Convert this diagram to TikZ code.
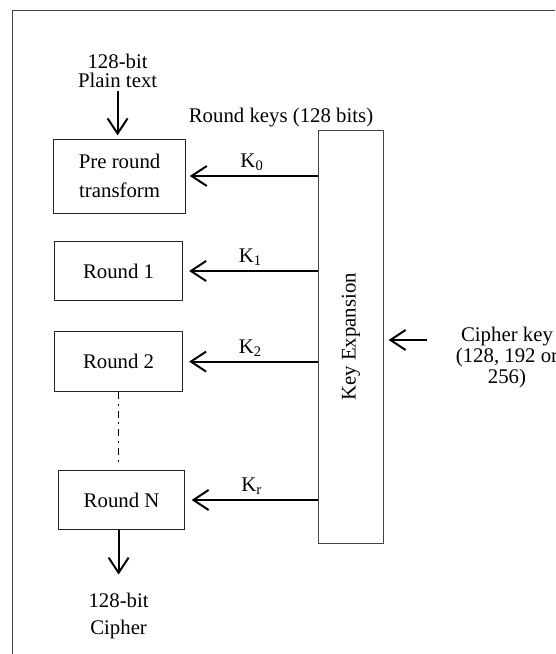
\documentclass[tikz,border=0pt]{standalone}
\usepackage{fontspec}
\setmainfont{Liberation Serif}
\usetikzlibrary{positioning,arrows.meta,calc}
\definecolor{framegray}{HTML}{444444}

\begin{document}
\begin{tikzpicture}[
    font=\fontsize{14.8}{12.4}\selectfont,
    stage/.style={draw=black!85, line width=0.6pt, align=center, inner sep=2pt},
    lbl/.style={align=center, inner sep=1pt},
    arr/.style={-{Straight Barb[length=3.8mm,width=5mm]}, line width=1.4pt},
    dashdotline/.style={line width=1pt, dash pattern=on 0.175cm off 0.12cm on 0.05cm off 0.12cm}
  ]
  \useasboundingbox (0,0) rectangle (13.875,16.35);
  \clip (0,0) rectangle (13.875,16.35);
  % Outer frame
  \draw[framegray, line width=0.7pt] (0.32,-1) rectangle (15,16.075);
  % Input and output
  \node[lbl] (plain) at (2.94,14.57) {128-bit\\[1.2pt]Plain text};
  \node[lbl] (cipher) at (2.965,0.95) {128-bit\\[6.8pt]Cipher};
  % Rounds
  \node[stage, minimum width=3.29cm, minimum height=1.85cm] (pre) at (2.99,11.95) {Pre round\\[8pt]transform};
  \node[stage, minimum width=3.185cm, minimum height=1.475cm] (r1) at (2.965,9.575) {Round 1};
  \node[stage, minimum width=3.185cm, minimum height=1.5cm] (r2) at (2.965,7.31) {Round 2};
  \node[stage, minimum width=3.16cm, minimum height=1.47cm] (rN) at (3.04,3.85) {Round N};
  % Key schedule
  \node[stage, draw=framegray, minimum width=1.62cm, minimum height=10.33cm] (keyx) at (8.775,7.93) {\rotatebox{90}{Key Expansion}};
  \node[lbl] (rkeys) at (7.025,13.4) {Round keys (128 bits)};
  \node[lbl] (ckey) at (12.675,7.42) {Cipher key\\[0.6pt](128, 192 or\\[0.6pt]256)};
  \coordinate (ckin) at (10.665,7.85);
  % Data path
  \draw[arr, shorten <=0.02cm, shorten >=0.08cm] (plain.south) -- (plain.south |- pre.north);
  \draw[dashdotline, shorten >=0.14cm] (r2.south) -- (r2.south |- rN.north);
  \draw[arr, shorten >=0.42cm] (cipher.north |- rN.south) -- (cipher.north);
  % Round keys
  \draw[arr, shorten >=0.1cm] (keyx.west |- pre) -- node[midway, above, inner sep=3pt] {K\textsubscript{0}} (pre.east);
  \draw[arr, shorten >=0.16cm] (keyx.west |- r1) -- node[midway, above, inner sep=3pt] {K\textsubscript{1}} (r1.east);
  \draw[arr, shorten >=0.16cm] (keyx.west |- r2) -- node[midway, above, inner sep=3pt] {K\textsubscript{2}} (r2.east);
  \draw[arr, shorten >=0.16cm] (keyx.west |- rN) -- node[midway, above, inner sep=3pt] {K\textsubscript{r}} (rN.east);
  \draw[arr, shorten >=0.12cm] (ckin) -- (keyx.east |- ckin);
\end{tikzpicture}
\end{document}
